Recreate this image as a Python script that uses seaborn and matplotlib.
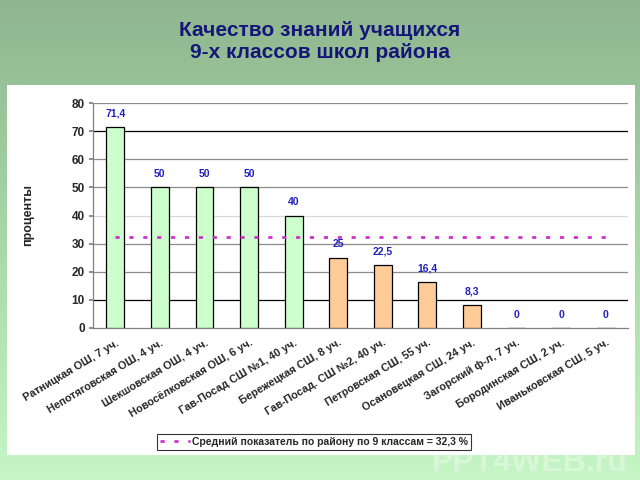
import numpy as np
import pandas as pd
import matplotlib
matplotlib.use("Agg")
import matplotlib.pyplot as plt
import seaborn as sns
from matplotlib.patches import Rectangle
from matplotlib.colors import LinearSegmentedColormap

schools = ["Ратницкая ОШ, 7 уч.", "Непотяговская ОШ, 4 уч.", "Шекшовская ОШ, 4 уч.",
           "Новосёлковская ОШ, 6 уч.", "Гав-Посад СШ №1, 40 уч.", "Бережецкая СШ, 8 уч.",
           "Гав-Посад. СШ №2, 40 уч.", "Петровская СШ, 55 уч.", "Осановецкая СШ, 24 уч.",
           "Загорский ф-л, 7 уч.", "Бородинская СШ, 2 уч.", "Иваньковская СШ, 5 уч."]
values = [71.4, 50, 50, 50, 40, 25, 22.5, 16.4, 8.3, 0, 0, 0]
value_labels = ["71,4", "50", "50", "50", "40", "25", "22,5", "16,4", "8,3", "0", "0", "0"]
groups = ["high"] * 5 + ["low"] * 7
average = 32.3
legend_label = "Средний показатель по району по 9 классам = 32,3 %"
title = "Качество знаний учащихся\n9-х классов школ района"
ylabel = "проценты"
yticks = [0, 10, 20, 30, 40, 50, 60, 70, 80]

sns.set_theme(style="white")
plt.rcParams['font.family'] = ['Liberation Sans', 'DejaVu Sans']

fig = plt.figure(figsize=(6.4, 4.8), dpi=100)

# gradient background
bg = fig.add_axes([0, 0, 1, 1], zorder=-10)
cmap = LinearSegmentedColormap.from_list("g", ["#8fb68f", "#a8d8a8", "#c6f6c6"])
grad = np.linspace(0, 1, 256).reshape(-1, 1)
bg.imshow(grad, aspect="auto", cmap=cmap, extent=[0, 1, 0, 1], origin="upper")
bg.set_xlim(0, 1); bg.set_ylim(0, 1)
bg.axis("off")
bg.add_patch(Rectangle((7/640, 1-455/480), (635-7)/640, (455-85)/480,
                       facecolor="white", edgecolor="none", transform=bg.transAxes))
bg.text(628/640, 1-478/480, "PPT4WEB.ru", ha="right", va="bottom", fontsize=23,
        fontweight="bold", color="white", alpha=0.35, transform=bg.transAxes)

fig.text(0.5, 1-41/480, title, ha="center", va="center", fontsize=15,
         fontweight="bold", color="#16167a", linespacing=1.2)

ax = fig.add_axes([93/640, 1-328/480, (628-93)/640, (328-103)/480])
ax.set_facecolor("none")
df = pd.DataFrame({"school": schools, "value": values, "group": groups})
sns.barplot(data=df, x="school", y="value", hue="group",
            palette={"high": "#ccffcc", "low": "#ffcc99"}, dodge=False, saturation=1,
            width=0.4, edgecolor="black", linewidth=0.9, legend=False, ax=ax, zorder=3)

ax.set_ylim(0, 80)
ax.set_xlim(-0.5, len(schools) - 0.5)
ax.set_yticks(yticks)
grid_colors = {10: "#000000", 70: "#000000", 40: "#d8d8d8"}
for t in yticks[1:]:
    ax.axhline(t, color=grid_colors.get(t, "#8c8c8c"), lw=0.9, zorder=1)

for i, (v, lab) in enumerate(zip(values, value_labels)):
    ax.annotate(lab, (i, v), xytext=(0, 6), textcoords="offset points", ha="center",
                va="bottom", fontsize=7.5, fontweight="bold", color="#1f1fbf", zorder=5)

ax.plot(range(len(schools)), [average] * len(schools), color="#cc33cc", lw=2,
        linestyle=(0, (1.5, 3.5)), zorder=4, label=legend_label)

for s in ["top", "right"]:
    ax.spines[s].set_visible(False)
for s in ["left", "bottom"]:
    ax.spines[s].set_color("#808080")
    ax.spines[s].set_linewidth(0.9)

ax.set_xticks(np.arange(len(schools)))
ax.set_xticklabels(schools, rotation=31, ha="right", rotation_mode="anchor",
                   fontsize=7.8, fontweight="bold")
ax.tick_params(axis="x", length=0, pad=7)
ax.set_xticks(np.arange(-0.5, len(schools), 1), minor=True)
ax.tick_params(axis="x", which="minor", length=3, color="#404040", width=0.8, direction="out")
ax.tick_params(axis="y", length=3, left=True, color="#808080", labelsize=8.5, pad=3)
for lbl in ax.get_yticklabels():
    lbl.set_fontweight("bold")
ax.set_xlabel("")
ax.set_ylabel("")
fig.text(28/640, 1-215/480, ylabel, rotation=90, ha="center", va="center",
         fontsize=9, fontweight="bold")

leg = fig.legend(loc="center", bbox_to_anchor=(314/640, 1-442/480), frameon=True,
                 handlelength=2.8, borderpad=0.3, handletextpad=0.2,
                 fancybox=False, edgecolor="black", prop={"weight": "bold", "size": 7.5})
leg.get_frame().set_linewidth(0.8)

fig.savefig("out.png", dpi=100)
